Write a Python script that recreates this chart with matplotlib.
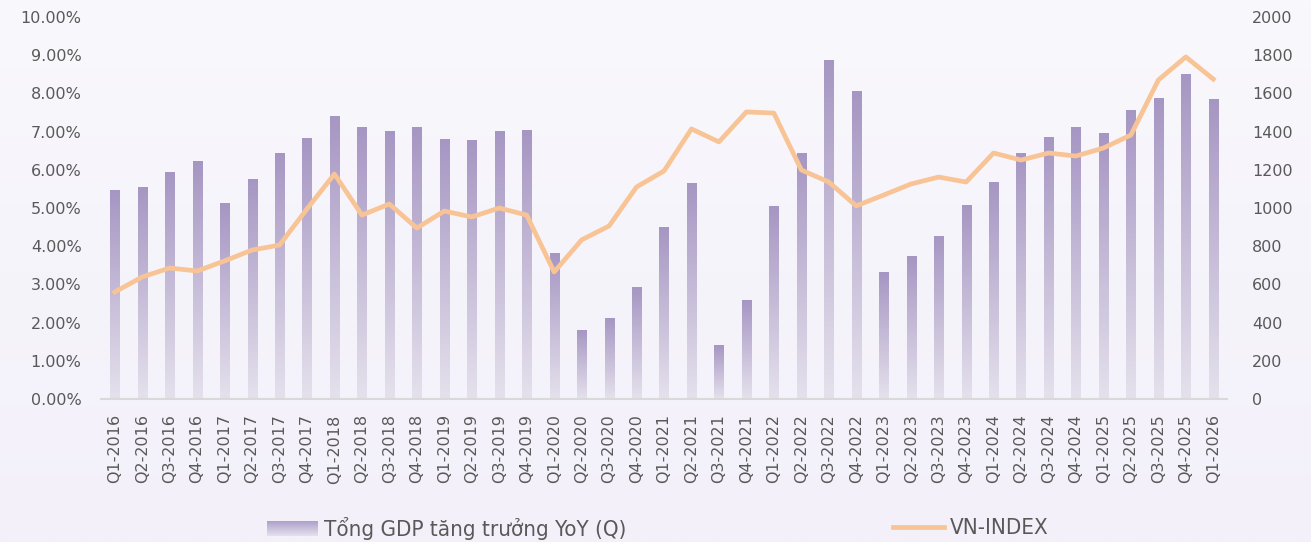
import numpy as np
import matplotlib
matplotlib.use("Agg")
import matplotlib.pyplot as plt
from matplotlib.colors import LinearSegmentedColormap
from matplotlib.patches import Rectangle
from matplotlib.lines import Line2D
from matplotlib.ticker import FuncFormatter, MultipleLocator

quarters = [f"Q{q}-{y}" for y in range(2016, 2026) for q in range(1, 5)] + ["Q1-2026"]

gdp = [5.47, 5.55, 5.94, 6.23, 5.13, 5.76, 6.44, 6.83, 7.41, 7.12, 7.02, 7.12,
       6.81, 6.78, 7.02, 7.04, 3.82, 1.81, 2.12, 2.93, 4.50, 5.65, 1.41, 2.59,
       5.05, 6.44, 8.87, 8.06, 3.32, 3.74, 4.27, 5.08, 5.68, 6.44, 6.86, 7.12,
       6.96, 7.57, 7.88, 8.51, 7.85]

vnindex = [560, 639, 686, 670, 723, 780, 806, 995, 1178, 963, 1021, 895,
           984, 953, 1000, 963, 665, 833, 906, 1110, 1194, 1414, 1346, 1503,
           1497, 1199, 1136, 1011, 1068, 1126, 1162, 1136, 1288, 1251, 1288, 1272,
           1314, 1382, 1670, 1791, 1675]

TXT = "#595959"
LINE_C = "#f8c496"
W, H = 1311, 542
fig = plt.figure(figsize=(W / 100, H / 100), dpi=100)

# background gradient
bg = fig.add_axes([0, 0, 1, 1], zorder=-10)
bg_cmap = LinearSegmentedColormap.from_list("bg", ["#f9f8fc", "#f3f0fa"])
bg.imshow(np.linspace(0, 1, 256).reshape(-1, 1), aspect="auto", cmap=bg_cmap,
          extent=[0, 1, 0, 1], origin="upper")
bg.axis("off")

ax = fig.add_axes([101 / W, 1 - 399 / H, (1227 - 101) / W, (399 - 17) / H])
ax.set_facecolor("none")

x = np.arange(len(quarters))
bars = ax.bar(x, gdp, width=0.33, facecolor="none", edgecolor="none", zorder=2)
bar_cmap = LinearSegmentedColormap.from_list("bar", ["#e5e1ec", "#a696c3"])
grad = np.linspace(0, 1, 200).reshape(-1, 1)
for b in bars:
    bx, bw, bh = b.get_x(), b.get_width(), b.get_height()
    im = ax.imshow(grad, aspect="auto", cmap=bar_cmap, origin="lower",
                   extent=[bx, bx + bw, 0, bh], zorder=2, interpolation="bilinear")
    im.set_clip_path(b)

ax.set_xlim(-0.5, len(quarters) - 0.5)
ax.set_ylim(0, 10)
ax.yaxis.set_major_locator(MultipleLocator(1))
ax.yaxis.set_major_formatter(FuncFormatter(lambda v, p: f"{v:.2f}%"))
ax.set_xticks(x)
ax.set_xticklabels(quarters, rotation=90)
for s in ["top", "right", "left"]:
    ax.spines[s].set_visible(False)
ax.spines["bottom"].set_color("#d9d9d9")
ax.spines["bottom"].set_linewidth(1.5)
ax.tick_params(axis="y", length=0, pad=14, labelsize=11.5, labelcolor=TXT)
ax.tick_params(axis="x", length=0, pad=11, labelsize=11.5, labelcolor=TXT)

ax2 = ax.twinx()
ax2.plot(x, vnindex, color=LINE_C, lw=3.4, solid_joinstyle="round", zorder=3)
ax2.set_ylim(0, 2000)
ax2.yaxis.set_major_locator(MultipleLocator(200))
for s in ["top", "right", "left", "bottom"]:
    ax2.spines[s].set_visible(False)
ax2.tick_params(axis="y", length=0, pad=18, labelsize=11.5, labelcolor=TXT)

# legends
h1 = Rectangle((0, 0), 1, 1, facecolor="none", edgecolor="none")
h2 = Line2D([0], [0], color=LINE_C, lw=3.4)
leg_kw = dict(frameon=False, fontsize=16, labelcolor=TXT, handlelength=2.3,
              handleheight=0.6, handletextpad=0.25, borderpad=0, borderaxespad=0,
              loc="center left")
l1 = fig.legend([h1], ["Tổng GDP tăng trưởng YoY (Q)"],
                bbox_to_anchor=(267 / W, 1 - 528 / H), **leg_kw)
l2 = fig.legend([h2], ["VN-INDEX"], bbox_to_anchor=(893 / W, 1 - 528 / H), **leg_kw)
for lg in (l1, l2):
    for t in lg.get_texts():
        t.set_fontstretch("condensed")

# gradient swatch for the bar legend entry
sw = fig.add_axes([267 / W, 1 - 536 / H, 51 / W, 15 / H])
leg_cmap = LinearSegmentedColormap.from_list("leg", ["#e6e2ee", "#ada0ca"])
sw.imshow(grad, aspect="auto", cmap=leg_cmap, origin="lower", extent=[0, 1, 0, 1])
sw.axis("off")

fig.savefig("out.png", dpi=100, facecolor=fig.get_facecolor())
